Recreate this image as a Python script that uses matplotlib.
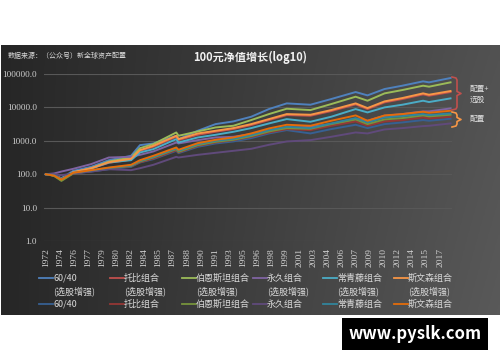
import numpy as np
import matplotlib
matplotlib.use("Agg")
import matplotlib.pyplot as plt
from matplotlib.lines import Line2D

plt.rcParams["font.family"] = ["Noto Sans CJK SC", "DejaVu Sans"]

# anchor months (monthly series, Dec 1972 = 100)
dates = ["1972-12", "1973-11", "1974-09", "1976-01", "1978-01", "1980-01",
         "1982-07", "1983-07", "1985-01", "1987-08", "1987-11", "1990-01",
         "1992-01", "1994-01", "1996-01", "1998-01", "2000-01", "2002-09",
         "2005-01", "2007-10", "2009-02", "2011-01", "2013-01", "2015-05",
         "2016-01", "2018-06"]

# 配置+选股 (enhanced)
p6040_plus = [100, 93, 76, 126, 166, 263, 355, 741, 832, 1413, 1122, 1995, 3162,
              3802, 5248, 8913, 13183, 12023, 17783, 28840, 22909, 35481, 44668,
              60256, 56234, 75858]
toby_plus = [100, 91, 71, 112, 148, 219, 275, 501, 661, 1318, 1047, 1514, 1862,
             2239, 2951, 4169, 5888, 5623, 7762, 12303, 8913, 14125, 17783,
             24547, 22387, 28840]
bern_plus = [100, 91, 66, 112, 151, 240, 316, 603, 794, 1778, 1413, 1905, 2512,
             2818, 4169, 6310, 9120, 8318, 12589, 20893, 15849, 26303, 33113,
             44668, 41687, 56234]
perm_plus = [100, 105, 120, 145, 200, 316, 331, 380, 479, 891, 832, 1047, 1259,
             1318, 1585, 1995, 2399, 2630, 3162, 4467, 3981, 5623, 6310, 7586,
             7586, 9333]
ever_plus = [100, 93, 74, 115, 148, 224, 263, 447, 562, 1122, 891, 1259, 1514,
             1862, 2399, 3311, 4467, 3715, 5248, 8913, 7079, 10000, 12023, 15849,
             14454, 18621]
swen_plus = [100, 93, 72, 115, 151, 229, 288, 525, 708, 1413, 1122, 1660, 1995,
             2399, 3162, 4467, 6310, 6026, 8318, 13183, 9550, 15136, 19055, 26303,
             23988, 30903]

# 配置 (base)
p6040 = [100, 93, 71, 107, 120, 141, 166, 224, 282, 501, 427, 661, 832, 955, 1202,
         1660, 2089, 1660, 2239, 3020, 2399, 3162, 3548, 4169, 3981, 4571]
toby = [100, 93, 72, 107, 123, 148, 174, 229, 295, 525, 447, 708, 891, 1047, 1318,
        1778, 2239, 2089, 2818, 3802, 2818, 3802, 4169, 5012, 4677, 5248]
bern = [100, 89, 63, 105, 126, 151, 178, 240, 316, 562, 468, 741, 933, 1072, 1380,
        1905, 2399, 2291, 3162, 4365, 3162, 4365, 4786, 5754, 5370, 6026]
perm = [100, 100, 93, 105, 120, 141, 132, 151, 191, 331, 316, 380, 437, 501, 575,
        759, 955, 1047, 1318, 1778, 1660, 2188, 2399, 2754, 2818, 3311]
ever = [100, 93, 72, 110, 129, 155, 182, 251, 331, 589, 501, 794, 1000, 1148, 1479,
        2089, 2630, 2399, 3311, 4786, 3548, 5012, 5495, 6310, 5888, 6607]
swen = [100, 91, 69, 110, 132, 158, 191, 263, 355, 631, 537, 851, 1072, 1259, 1660,
        2344, 3020, 2818, 3981, 5754, 3981, 5754, 6310, 7413, 6918, 7943]

names = ["60/40", "托比组合", "伯恩斯坦组合", "永久组合", "常青藤组合", "斯文森组合"]
plus_series = [p6040_plus, toby_plus, bern_plus, perm_plus, ever_plus, swen_plus]
base_series = [p6040, toby, bern, perm, ever, swen]
plus_colors = ["#4f81bd", "#c0504d", "#9bbb59", "#8064a2", "#4bacc6", "#f79646"]
base_colors = ["#376092", "#953735", "#77933c", "#604a7b", "#31859c", "#e46c0a"]

# category axis labels, one every 19 months
tick_years = [1972, 1974, 1976, 1977, 1979, 1980, 1982, 1984, 1985, 1987, 1988,
              1990, 1991, 1993, 1995, 1996, 1998, 1999, 2001, 2003, 2004, 2006,
              2007, 2009, 2010, 2012, 2014, 2015, 2017]


def month_idx(s):
    y, m = s.split("-")
    return (int(y) - 1972) * 12 + int(m) - 12


def fx(px):
    return px / 500


def fy(py):
    return 1 - py / 362


x = np.array([month_idx(d) for d in dates])

fig = plt.figure(figsize=(5, 3.62), dpi=100)
fig.patch.set_facecolor("white")

# dark gradient chart area
bg = fig.add_axes([fx(1), fy(315), fx(499), (315 - 45) / 362])
gx = np.linspace(0, 1, 200)
gy = np.linspace(0, 1, 100)
GX, GY = np.meshgrid(gx, gy)
grad = 0.15 + 0.17 * GX + 0.03 * GY * GX
bg.imshow(np.dstack([grad, grad, grad]), aspect="auto", extent=[0, 1, 0, 1])
bg.axis("off")

ax = fig.add_axes([fx(44), fy(241), fx(452 - 44), (241 - 74) / 362])
ax.set_facecolor("none")
ax.set_yscale("log")
ax.set_ylim(1, 100000)
ax.set_xlim(-2.5, 548)

for v, c in zip(plus_series, plus_colors):
    ax.plot(x, v, color=c, lw=1.4, solid_joinstyle="round")
for v, c in zip(base_series, base_colors):
    ax.plot(x, v, color=c, lw=1.4, solid_joinstyle="round")

ax.set_yticks([1, 10, 100, 1000, 10000, 100000])
ax.set_yticklabels(["1.0", "10.0", "100.0", "1000.0", "10000.0", "100000.0"],
                   family="Liberation Serif", fontsize=6.6, color="#d0d0d0")
ax.yaxis.set_minor_locator(matplotlib.ticker.NullLocator())
ax.set_xticks([19 * k for k in range(len(tick_years))])
ax.set_xticklabels([str(t) for t in tick_years], rotation=90,
                   family="Liberation Serif", fontsize=6.8, color="#d0d0d0")
ax.tick_params(length=0, pad=5)
ax.grid(axis="y", color="#585858", lw=0.8)
for s in ax.spines.values():
    s.set_visible(False)

fig.text(fx(250), fy(57), "100元净值增长(log10)", ha="center", va="center",
         fontsize=8, fontweight="bold", color="#f2f2f2")
fig.text(fx(8), fy(56), "数据来源：（公众号）新全球资产配置", ha="left", va="center",
         fontsize=5, color="#d9d9d9")

# legend, two rows by six columns
col_x = [39, 110, 182, 253, 323, 394]
for i in range(6):
    x0 = col_x[i]
    fig.add_artist(Line2D([fx(x0), fx(x0 + 14)], [fy(278), fy(278)],
                          color=plus_colors[i], lw=1.3))
    fig.text(fx(x0 + 14), fy(278), names[i], va="center", fontsize=6.5,
             color="#d9d9d9")
    fig.text(fx(x0 + 14), fy(291), "(选股增强)", va="center", fontsize=6.5,
             color="#d9d9d9")
    fig.add_artist(Line2D([fx(x0), fx(x0 + 14)], [fy(304), fy(304)],
                          color=base_colors[i], lw=1.3))
    fig.text(fx(x0 + 14), fy(304), names[i], va="center", fontsize=6.5,
             color="#d9d9d9")


def brace(x0, y0, y1, color):
    ym = (y0 + y1) / 2
    px = [x0, x0 + 4, x0 + 5, x0 + 5, x0 + 9, x0 + 5, x0 + 5, x0 + 4, x0]
    py = [y0, y0 + 1, y0 + 3, ym - 2, ym, ym + 2, y1 - 3, y1 - 1, y1]
    fig.add_artist(Line2D([fx(p) for p in px], [fy(p) for p in py],
                          color=color, lw=1.2))


brace(452, 77, 110, "#c0504d")
brace(452, 112, 127, "#f79646")
fig.text(fx(470), fy(94), "配置+\n选股", va="center", fontsize=5.5,
         color="#e0e0e0", linespacing=1.5)
fig.text(fx(470), fy(119), "配置", va="center", fontsize=5.5, color="#e0e0e0")

fig.text(fx(415), fy(334), "www.pyslk.com", ha="center", va="center",
         fontsize=12, fontweight="bold", color="white",
         bbox=dict(boxstyle="square,pad=0.4", fc="black", ec="none"))

fig.savefig("out.png", dpi=100)
